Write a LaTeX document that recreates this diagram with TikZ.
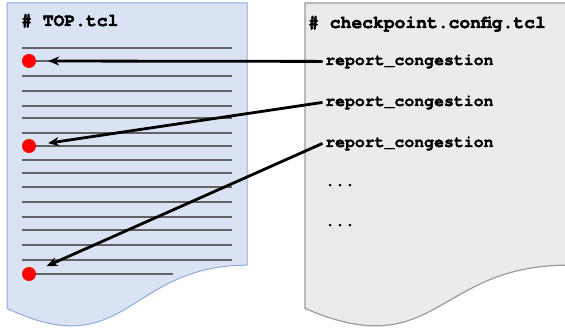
\documentclass[tikz,border=0pt]{standalone}
\usepackage{fontspec}
\newfontfamily\codefont{TeX Gyre Cursor}[BoldFeatures={FakeBold=1.6}]
\newfontfamily\headfont{TeX Gyre Cursor}[BoldFeatures={FakeBold=2.6}]
\usetikzlibrary{arrows.meta}
\definecolor{topfill}{HTML}{DAE3F3}
\definecolor{topedge}{HTML}{8FAADC}
\definecolor{cfgfill}{HTML}{EBEBEB}
\definecolor{cfgedge}{HTML}{9A9A9A}
\definecolor{ruleline}{HTML}{636363}
\tikzset{
  title/.style={anchor=base west, inner sep=0pt, font=\headfont\bfseries\fontsize{18pt}{18pt}\selectfont},
  code/.style={anchor=base west, inner ysep=0pt, inner xsep=2.5pt, font=\codefont\bfseries\fontsize{16.5pt}{16.5pt}\selectfont},
  dot/.style={circle, fill=red, draw=none, minimum size=14pt, inner sep=0pt},
  rule/.style={draw=ruleline, line width=1.2pt},
  arr/.style={draw=black, line width=2.8pt, -{Stealth[length=11pt,width=9pt]}, shorten >=12pt}
}
\begin{document}
\begin{tikzpicture}[x=1pt, y=-1pt]
\useasboundingbox (0,0) rectangle (565,331);

% TOP.tcl page with wavy bottom edge
\filldraw[fill=topfill, draw=topedge, line width=1pt]
  (7,3) -- (247,3) -- (247,265.2)
  .. controls (127,265.2) and (127,365.2) .. (7,308.4) -- cycle;

% checkpoint.config.tcl page, running past the right margin
\filldraw[fill=cfgfill, draw=cfgedge, line width=1.2pt]
  (305,3) -- (567,3) -- (567,265.2)
  .. controls (436,265.2) and (436,365.2) .. (305,308.4) -- cycle;

% page titles
\node[title] (toptitle) at (21,26) {\# TOP.tcl};
\node[title] (cfgtitle) at (308,28) {\# checkpoint.config.tcl};

% ruled text lines of TOP.tcl
\foreach \yy in {48,76,91,106,118,133,160,173,187,202,217,230,245,260}
  \draw[rule] (22,\yy) -- (232,\yy);
\draw[rule] (29,61) -- (232,61);
\draw[rule] (29,146) -- (232,146);
\draw[rule] (29,274) -- (173,274);

% insertion points
\node[dot] (d1) at (29,61) {};
\node[dot] (d2) at (29,146) {};
\node[dot] (d3) at (29,274) {};

% commands in checkpoint.config.tcl
\node[code] (rc1) at (322.5,65) {report\_congestion};
\node[code] (rc2) at (322.5,106) {report\_congestion};
\node[code] (rc3) at (322.5,147) {report\_congestion};
\node[code] (more1) at (322.5,186) {...};
\node[code] (more2) at (322.5,226) {...};

% where each command lands
\draw[arr] (rc1.west) -- (d1);
\draw[arr] (rc2.west) -- (d2);
\draw[arr] (rc3.west) -- (d3);
\end{tikzpicture}
\end{document}
